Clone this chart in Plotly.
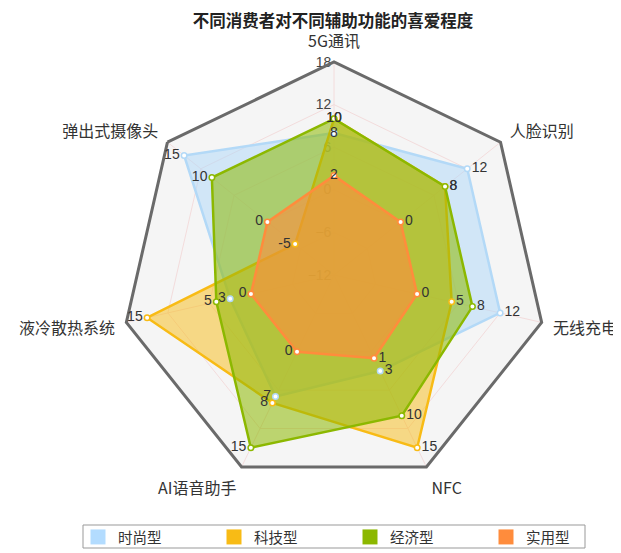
import plotly.graph_objects as go

categories = ["5G通讯", "人脸识别", "无线充电", "NFC", "AI语音助手", "液冷散热系统", "弹出式摄像头"]
series_names = ["时尚型", "科技型", "经济型", "实用型"]
fashion = [8, 12, 12, 3, 7, 3, 15]
tech = [10, 8, 5, 15, 8, 15, -5]
economy = [10, 8, 8, 10, 15, 5, 10]
practical = [2, 0, 0, 1, 0, 0, 0]
radial_ticks = [-12, -6, 0, 6, 12, 18]

values = [fashion, tech, economy, practical]
line_colors = ["#b3d9f7", "#f8bb15", "#8cb800", "#ff8c3c"]
fill_colors = ["rgba(179,217,247,0.55)", "rgba(248,187,21,0.5)",
               "rgba(140,184,0,0.55)", "rgba(255,140,60,0.6)"]
legend_colors = ["#b3dcff", "#f8bb15", "#8cb800", "#ff8c3c"]

text_pos = [
    ["middle center", "middle right", "middle right", "middle right", "middle left", "middle left", "middle left"],
    ["middle center", "middle right", "middle right", "middle right", "middle left", "middle left", "middle left"],
    ["middle center", "middle right", "middle right", "middle right", "middle left", "middle left", "middle left"],
    ["middle center", "middle right", "middle right", "middle right", "middle left", "middle left", "middle left"],
]

W, H = 613, 545
fig = go.Figure()
# filled areas on the polygon-shaped subplot
for name, vals, lc, fc in zip(series_names, values, line_colors, fill_colors):
    fig.add_trace(go.Scatterpolar(
        r=vals + [vals[0]],
        theta=categories + [categories[0]],
        mode="lines",
        fill="toself",
        fillcolor=fc,
        line=dict(color=lc, width=2.5),
        name=name,
        showlegend=False,
        hoverinfo="skip",
        subplot="polar",
    ))
# markers and value labels on an overlaid transparent subplot with identical scales
for name, vals, lc, tp in zip(series_names, values, line_colors, text_pos):
    fig.add_trace(go.Scatterpolar(
        r=vals,
        theta=categories,
        mode="markers+text",
        text=[str(v) for v in vals],
        textposition=tp,
        textfont=dict(size=14, color="#333", family="Liberation Sans, Arial, sans-serif"),
        marker=dict(size=5.5, color="white", line=dict(color=lc, width=1.5)),
        cliponaxis=False,
        name=name,
        showlegend=False,
        hoverinfo="skip",
        subplot="polar2",
    ))
# legend entries
for name, c in zip(series_names, legend_colors):
    fig.add_trace(go.Scatterpolar(
        r=[None], theta=[None], mode="markers", name=name,
        marker=dict(symbol="square", size=15, color=c),
        showlegend=True, subplot="polar",
    ))

domain = dict(x=[113 / W, 539 / W], y=[1 - 480 / H, 1 - 54 / H])

fig.update_layout(
    width=W, height=H,
    margin=dict(l=0, r=0, t=0, b=0, autoexpand=False),
    paper_bgcolor="white",
    font=dict(family="Noto Sans CJK SC, sans-serif", color="#333"),
    title=dict(text="<b>不同消费者对不同辅助功能的喜爱程度</b>", x=325 / W, xanchor="center",
               y=1 - 13 / H, yanchor="middle", font=dict(size=16.5, color="#222")),
    polar=dict(
        domain=domain,
        gridshape="linear",
        bgcolor="#f5f5f5",
        radialaxis=dict(
            range=[-12, 18], tickvals=radial_ticks, angle=90, tickangle=90,
            side="counterclockwise", showline=False, ticks="",
            gridcolor="#f3dcdc", gridwidth=1, layer="below traces",
            tickfont=dict(size=14, color="#444", family="Liberation Sans, Arial, sans-serif"),
        ),
        angularaxis=dict(
            direction="clockwise", rotation=90, categoryorder="array", categoryarray=categories,
            linecolor="#6a6a6a", linewidth=3, showline=True,
            gridcolor="#f3dcdc", gridwidth=1,
            ticks="outside", ticklen=7, tickcolor="rgba(0,0,0,0)",
            tickfont=dict(size=16, color="#333"),
        ),
    ),
    polar2=dict(
        domain=domain,
        gridshape="circular",
        bgcolor="rgba(0,0,0,0)",
        radialaxis=dict(range=[-12, 18], angle=90, showline=False, showgrid=False,
                        showticklabels=False, ticks=""),
        angularaxis=dict(direction="clockwise", rotation=90, categoryorder="array",
                         categoryarray=categories, showline=False, showgrid=False,
                         showticklabels=False, ticks=""),
    ),
    legend=dict(
        orientation="h", x=70 / W, xanchor="left", y=1 - 529 / H, yanchor="middle",
        borderwidth=0, bgcolor="rgba(0,0,0,0)",
        entrywidth=91, entrywidthmode="pixels",
        font=dict(size=14.5, color="#333"),
        itemclick=False,
    ),
    shapes=[dict(type="rect", xref="paper", yref="paper",
                 x0=75 / W, x1=577 / W, y0=1 - 540 / H, y1=1 - 517 / H,
                 line=dict(color="#999", width=1), fillcolor="rgba(0,0,0,0)", layer="below")],
)

fig.write_html("out.html")
